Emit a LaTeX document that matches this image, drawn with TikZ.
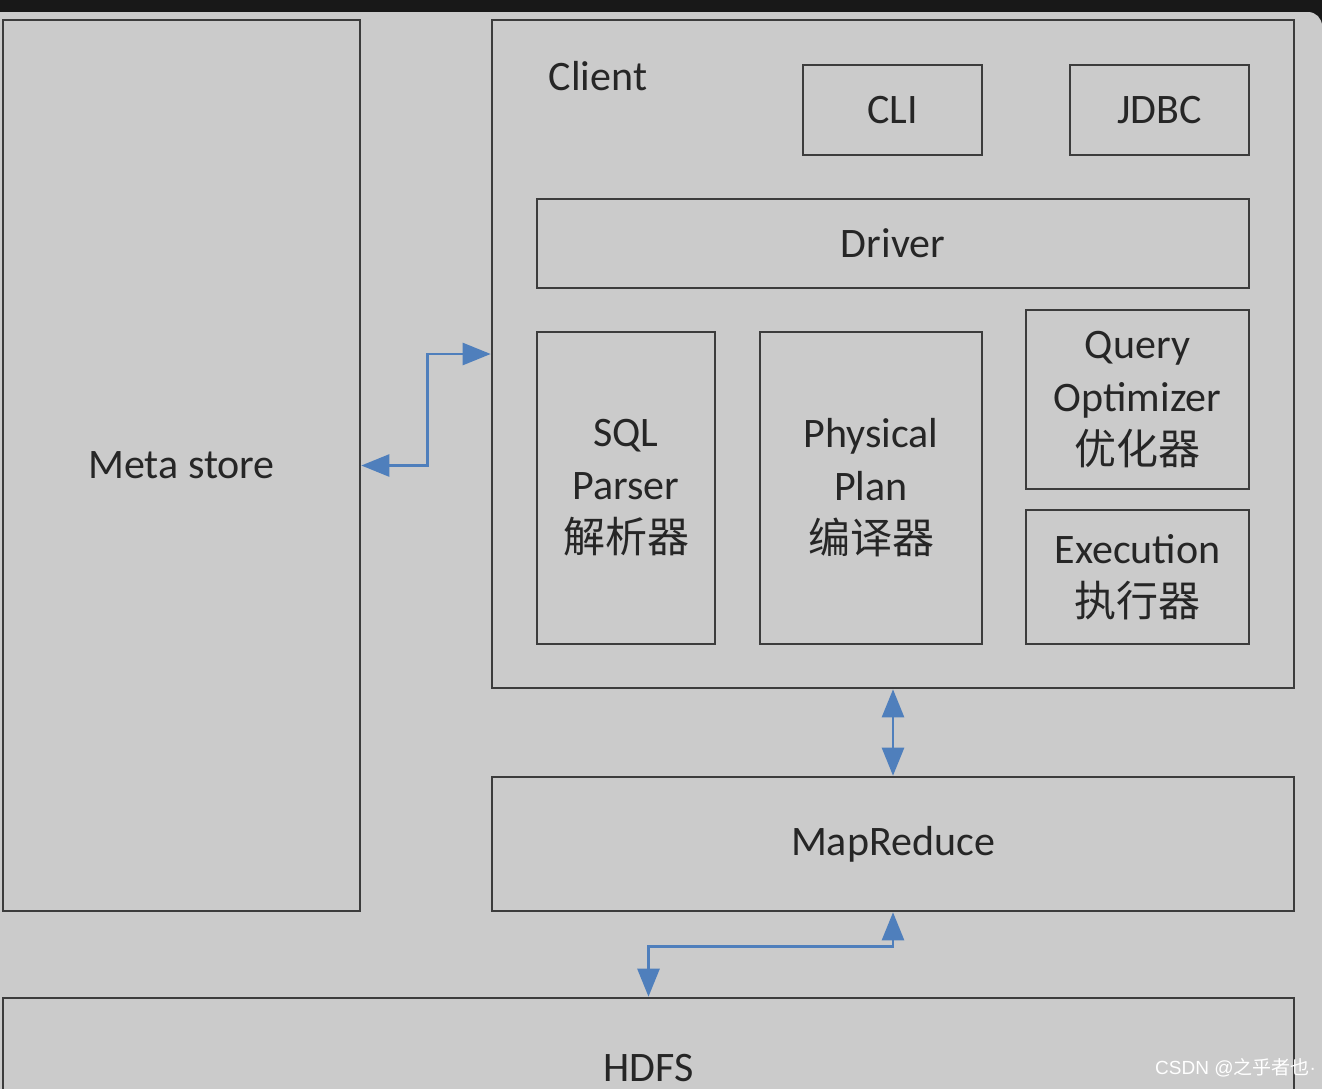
\documentclass[tikz,border=0pt]{standalone}
\usepackage{fontspec}
\setmainfont{Carlito}
\newfontfamily\cjk{Noto Sans CJK SC}
\newfontfamily\wmfont{Liberation Sans}
\usetikzlibrary{positioning, arrows.meta}
\definecolor{bgdark}{HTML}{181818}
\definecolor{bggray}{HTML}{CBCBCB}
\definecolor{edge}{HTML}{3C3C3C}
\definecolor{ink}{HTML}{262626}
\definecolor{link}{HTML}{4F7FBC}

\begin{document}
\begin{tikzpicture}[
    x=1pt, y=-1pt,
    box/.style={rectangle, draw=edge, line width=2.6pt, fill=bggray, text=ink, align=center, inner sep=0pt,
        font=\fontsize{42}{53}\selectfont},
    lbl/.style={text=ink, inner sep=0pt, font=\fontsize{42}{53}\selectfont},
    arr/.style={{Triangle[length=28pt, width=22pt]}-{Triangle[length=28pt, width=22pt]}, draw=link, line width=2.6pt},
]

% === Background ===
\useasboundingbox (0,0) rectangle (1322,1088);
\clip (0,0) rectangle (1322,1088);
\fill[bgdark] (0,0) rectangle (1322,1088);
\fill[bggray, rounded corners=14pt] (-30,12) rectangle (1322,1130);

% === Meta store ===
\node[box, minimum width=357pt, minimum height=891pt] (meta) at (181.5, 465.5) {Meta store};

% === Client block ===
\node[box, minimum width=802pt, minimum height=668pt] (client) at (893, 354) {};
\node[lbl] (clientlabel) at (598, 76) {Client};
\node[box, minimum width=179pt, minimum height=90pt] (cli) at (892.5, 110) {CLI};
\node[box, minimum width=179pt, minimum height=90pt] (jdbc) at (1159.5, 110) {JDBC};
\node[box, minimum width=712pt, minimum height=89pt] (driver) at (893, 243.5) {Driver};
\node[box, minimum width=178pt, minimum height=312pt] (parser) at (626, 488) {SQL\\Parser\\{\cjk 解析器}};
\node[box, minimum width=222pt, minimum height=312pt] (physical) at (871, 488) {Physical\\Plan\\{\cjk 编译器}};
\node[box, minimum width=223pt, minimum height=179pt] (optimizer) at (1137.5, 399.5) {Query\\Optimizer\\{\cjk 优化器}};
\node[box, minimum width=223pt, minimum height=134pt] (execution) at (1137.5, 577) {Execution\\{\cjk 执行器}};

% === Lower layers ===
\node[box, minimum width=802pt, minimum height=134pt] (mapreduce) at (893, 844) {MapReduce};
\node[box, minimum width=1291pt, minimum height=140pt] (hdfs) at (648.5, 1068) {HDFS};

% === Connectors ===
\draw[arr] (meta.east) -- ++(66,0) |- (client.west);
\draw[arr] (client.south) -- (mapreduce.north);
\draw[arr] (mapreduce.south) -- ++(0,34) -| (hdfs.north);

% === Watermark ===
\node[anchor=west, text=white, inner sep=0pt, font=\wmfont\fontsize{19}{22}\selectfont] (mark) at (1155, 1068) {CSDN @{\cjk 之乎者也}·};

\end{tikzpicture}
\end{document}
